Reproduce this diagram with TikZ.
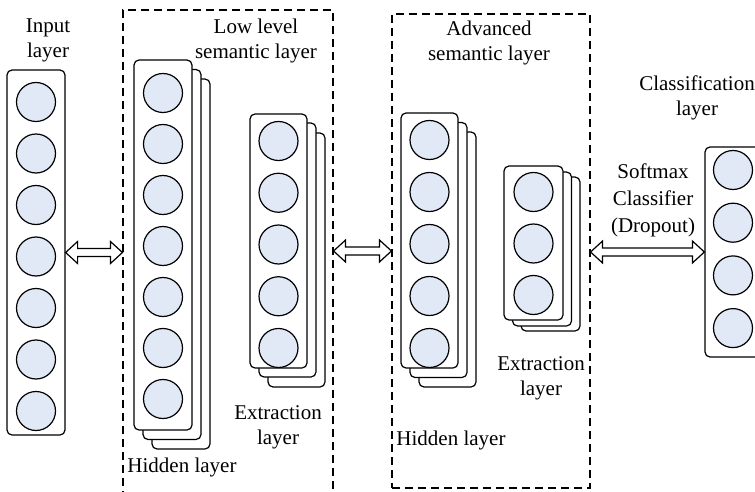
\documentclass[tikz,border=0pt]{standalone}
\usepackage{fontspec}
\setmainfont{Liberation Serif}
\usetikzlibrary{calc}
\definecolor{neuronfill}{RGB}{226,233,246}
\tikzset{
  lbox/.style={draw=black, line width=1.2pt, rounded corners=5pt, fill=white, inner sep=0pt},
  neuron/.style={circle, draw=black, line width=1.2pt, fill=neuronfill, inner sep=0pt, minimum size=39pt},
  dbox/.style={draw=black, line width=1.1pt, dash pattern=on 8pt off 5pt, inner sep=0pt},
  lbl/.style={font=\fontsize{21}{25}\selectfont, align=center, inner sep=0pt},
  hollowarrow/.style={draw=black, line width=1.2pt, fill=white}
}
\newcommand\dblarrow[2]{%
  \path[hollowarrow] let \p1=(#1), \p2=(#2) in
    (\x1,\y1) -- ({\x1+12pt},{\y1+11pt}) -- ({\x1+12pt},{\y1+4pt}) --
    ({\x2-12pt},{\y1+4pt}) -- ({\x2-12pt},{\y1+11pt}) -- (\x2,\y1) --
    ({\x2-12pt},{\y1-11pt}) -- ({\x2-12pt},{\y1-4pt}) --
    ({\x1+12pt},{\y1-4pt}) -- ({\x1+12pt},{\y1-11pt}) -- cycle;}
\begin{document}
\begin{tikzpicture}[x=1pt,y=-1pt]
\useasboundingbox (0,0) rectangle (755,492);

% dashed group boxes
\node[dbox, minimum width=210pt, minimum height=490pt] (lowsem) at (228,255) {};
\node[dbox, minimum width=198pt, minimum height=474pt] (advsem) at (491,251) {};

% input layer
\node[lbox, minimum width=58pt, minimum height=365pt] (inp) at (36,252.5) {};
\foreach \k in {0,...,6} \node[neuron] (in\k) at (36,{102+51.5*\k}) {};

% low level hidden stack
\node[lbox, minimum width=58pt, minimum height=370pt] (lh3) at (181,264) {};
\node[lbox, minimum width=58pt, minimum height=370pt] (lh2) at (172,254.5) {};
\node[lbox, minimum width=58pt, minimum height=370pt] (lh1) at (163,245) {};
\foreach \k in {0,...,6} \node[neuron] (lhn\k) at (163,{93+51*\k}) {};

% low level extraction stack
\node[lbox, minimum width=57pt, minimum height=254pt] (le3) at (296.5,260) {};
\node[lbox, minimum width=57pt, minimum height=254pt] (le2) at (287.5,250) {};
\node[lbox, minimum width=57pt, minimum height=254pt] (le1) at (278.5,241) {};
\foreach \k in {0,...,4} \node[neuron] (len\k) at (278.5,{141+51.75*\k}) {};

% advanced hidden stack
\node[lbox, minimum width=57pt, minimum height=255pt] (ah3) at (447.5,259.5) {};
\node[lbox, minimum width=57pt, minimum height=255pt] (ah2) at (438.5,250) {};
\node[lbox, minimum width=57pt, minimum height=255pt] (ah1) at (429.5,240.5) {};
\foreach \k in {0,...,4} \node[neuron] (ahn\k) at (429.5,{140+52*\k}) {};

% advanced extraction stack
\node[lbox, minimum width=59pt, minimum height=154pt] (ae3) at (550.5,254) {};
\node[lbox, minimum width=59pt, minimum height=154pt] (ae2) at (542,249) {};
\node[lbox, minimum width=59pt, minimum height=154pt] (ae1) at (533.5,243) {};
\foreach \k in {0,...,2} \node[neuron] (aen\k) at (533.5,{192+51.5*\k}) {};

% classification layer
\node[lbox, minimum width=56pt, minimum height=210pt] (cls) at (733,252) {};
\foreach \k in {0,...,3} \node[neuron] (cn\k) at (733,{170+52.7*\k}) {};

% arrows
\coordinate (a1s) at (inp.east);
\coordinate (a1e) at (inp.east -| lowsem.west);
\dblarrow{a1s}{a1e}
\coordinate (a2s) at (lowsem.east |- advsem.west);
\coordinate (a2e) at (advsem.west);
\dblarrow{a2s}{a2e}
\coordinate (a3s) at (advsem.east |- cls.west);
\coordinate (a3e) at (cls.west);
\dblarrow{a3s}{a3e}

% labels
\node[lbl] (tinp) at (48,40.5) {Input\\layer};
\node[lbl] (tlow) at (256,40.5) {Low level\\semantic layer};
\node[lbl] (tlh) at (182,467) {Hidden layer};
\node[lbl] (tle) at (278,427.5) {Extraction\\layer};
\node[lbl] (tadv) at (489,42.5) {Advanced\\semantic layer};
\node[lbl] (tah) at (451,440) {Hidden layer};
\node[lbl] (tae) at (541,378.5) {Extraction\\layer};
\node[lbl] (tcls) at (697,97.5) {Classification\\layer};
\node[lbl, font=\fontsize{21}{27}\selectfont] (tsm) at (653,200.5) {Softmax\\Classifier\\(Dropout)};
\end{tikzpicture}
\end{document}
